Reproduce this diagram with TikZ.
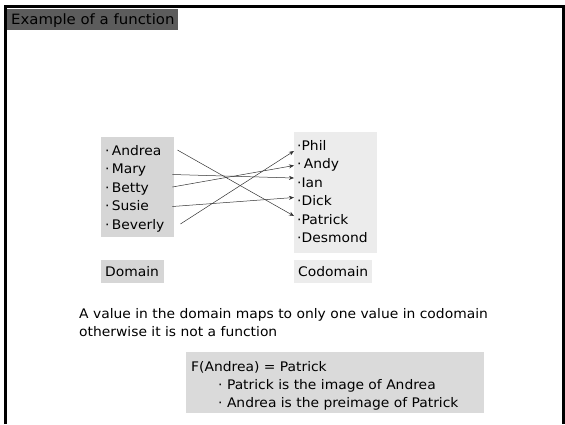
\documentclass[tikz,border=0pt]{standalone}
\usepackage{fontspec}
\setmainfont[FakeStretch=1.05]{DejaVu Sans}
\usetikzlibrary{calc,arrows.meta}
\definecolor{titlegray}{HTML}{5C5C5C}
\definecolor{domgray}{HTML}{D6D6D6}
\definecolor{cogray}{HTML}{ECECEC}
\definecolor{notegray}{HTML}{DADADA}
\tikzset{
  txt/.style={anchor=west, inner sep=0pt, text height=12pt, text depth=2pt, font=\fontsize{13.2}{15}\selectfont},
  panel/.style={anchor=north west, inner sep=0pt, draw=none},
  maparrow/.style={-{Stealth[length=5pt,width=4pt]}, line width=0.5pt, black!80}
}
\begin{document}
\begin{tikzpicture}[x=1pt,y=-1pt]
\useasboundingbox (0,0) rectangle (565,424);
\fill[white] (0,0) rectangle (565,424);
\draw[line width=3pt] (5,424) -- (5,6.5) -- (563,6.5) -- (563,424);
% title
\node[panel, fill=titlegray, minimum width=171pt, minimum height=21pt] (titlebox) at (7,9) {};
\node[txt, font=\fontsize{14.2}{16}\selectfont] (title) at (11,19.5) {Example of a function};
% domain
\node[panel, fill=domgray, minimum width=73pt, minimum height=100pt] (dombox) at (101,137) {};
\node[txt] (andrea) at (105,150) {·\,Andrea};
\node[txt] (mary) at (105,168.5) {·\,Mary};
\node[txt] (betty) at (105,187) {·\,Betty};
\node[txt] (susie) at (105,205.5) {·\,Susie};
\node[txt] (beverly) at (105,224) {·\,Beverly};
% codomain
\node[panel, fill=cogray, minimum width=83pt, minimum height=121pt] (cobox) at (294,132) {};
\node[txt] (phil) at (297,145) {·Phil};
\node[txt] (andy) at (297,163.5) {·\,Andy};
\node[txt] (ian) at (297,182) {·Ian};
\node[txt] (dick) at (297,200.5) {·Dick};
\node[txt] (patrick) at (297,219) {·Patrick};
\node[txt] (desmond) at (297,237.5) {·Desmond};
% labels
\node[panel, fill=domgray, minimum width=63pt, minimum height=23pt] (domlabelbox) at (101,260) {};
\node[txt] (domlabel) at (105,271.5) {Domain};
\node[panel, fill=cogray, minimum width=78pt, minimum height=23pt] (colabelbox) at (294,260) {};
\node[txt] (colabel) at (298,271.5) {Codomain};
% arrows
\draw[maparrow] ($(andrea.center -| dombox.east)+(3,0)$) -- ($(patrick.center -| cobox.west)+(0,-3)$);
\draw[maparrow] ($(mary.center -| dombox.east)+(-2,6)$) -- ($(ian.center -| cobox.west)+(0,-4)$);
\draw[maparrow] ($(betty.center -| dombox.east)+(-2,0)$) -- ($(andy.center -| cobox.west)+(0,2)$);
\draw[maparrow] ($(susie.center -| dombox.east)+(-2,1)$) -- ($(dick.center -| cobox.west)+(0,-3)$);
\draw[maparrow] ($(beverly.center -| dombox.east)+(6,0)$) -- ($(phil.center -| cobox.west)+(0,6)$);
% statement
\node[txt] (line1) at (79,313) {A value in the domain maps to only one value in codomain};
\node[txt] (line2) at (79,331) {otherwise it is not a function};
% note box
\node[panel, fill=notegray, minimum width=298pt, minimum height=61pt] (notebox) at (186,352) {};
\node[txt] (fa) at (191,366) {F(Andrea) = Patrick};
\node[txt] (img) at (218,384) {· Patrick is the image of Andrea};
\node[txt] (pre) at (218,402) {· Andrea is the preimage of Patrick};
\end{tikzpicture}
\end{document}
